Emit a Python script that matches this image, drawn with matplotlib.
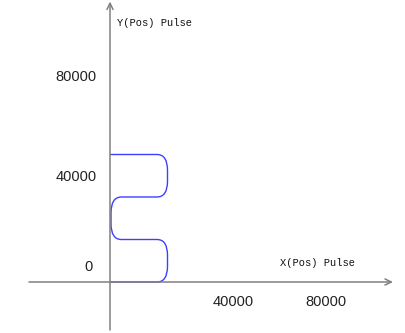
import numpy as np
import matplotlib
matplotlib.use("Agg")
import matplotlib.pyplot as plt
from matplotlib.path import Path
from matplotlib.patches import PathPatch

# corner points of the pulse path (X, Y in pulses)
path_x = [0, 23000, 23000, 400, 400, 23000, 23000, 0]
path_y = [51000, 51000, 34000, 34000, 17000, 17000, 0, 0]
raio_h = 4200
raio_v = 6300

y_tick_values = [80000, 40000, 0]
x_tick_values = [40000, 80000]

eje_cor = "#808080"
linha_cor = "#3f3fff"

fig = plt.figure(figsize=(4.06, 3.33), dpi=100)
ax = fig.add_axes([0, 0, 1, 1])
ax.set_xlim(-44000, 118400)
ax.set_ylim(-20400, 112800)
ax.axis("off")

# axes with arrows
seta = dict(arrowstyle="->,head_length=0.45,head_width=0.22", color=eje_cor, lw=1.1,
            shrinkA=0, shrinkB=0)
ax.annotate("", xy=(113200, 0), xytext=(-32400, 0), arrowprops=seta)
ax.annotate("", xy=(0, 112200), xytext=(0, -19200), arrowprops=seta)


def raio(d):
    # horizontal segments get the horizontal radius, vertical ones the vertical
    return raio_h if abs(d[0]) > abs(d[1]) else raio_v


# rounded path
pts = np.column_stack([path_x, path_y]).astype(float)
verts = [pts[0]]
codes = [Path.MOVETO]
for i in range(1, len(pts) - 1):
    c = pts[i]
    p = pts[i - 1]
    n = pts[i + 1]
    a = c + raio(p - c) * (p - c) / np.linalg.norm(p - c)
    b = c + raio(n - c) * (n - c) / np.linalg.norm(n - c)
    verts += [a, c, b]
    codes += [Path.LINETO, Path.CURVE3, Path.CURVE3]
verts.append(pts[-1])
codes.append(Path.LINETO)
ax.add_patch(PathPatch(Path(verts, codes), facecolor="none", edgecolor=linha_cor, lw=1.0))

# tick labels
num_font = dict(family="Liberation Sans", fontsize=10.5, color="#222222")
y_label_pos = [(-5200, 82000), (-5200, 42000), (-6800, 6000)]
for v, (px, py) in zip(y_tick_values, y_label_pos):
    ax.text(px, py, str(v), ha="right", va="center", **num_font)
x_label_pos = [(49200, -8000), (86400, -8000)]
for v, (px, py) in zip(x_tick_values, x_label_pos):
    ax.text(px, py, str(v), ha="center", va="center", **num_font)

tit_font = dict(family="Liberation Mono", fontsize=7.5, color="#111111")
ax.text(68000, 7600, "X(Pos) Pulse", ha="left", va="center", **tit_font)
ax.text(2800, 103600, "Y(Pos) Pulse", ha="left", va="center", **tit_font)

fig.savefig("out.png", dpi=100)
